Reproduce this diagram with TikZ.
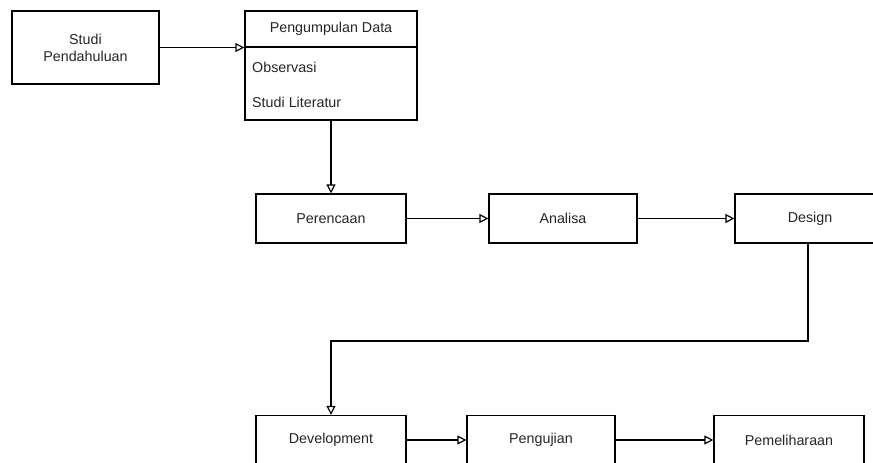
\documentclass[tikz,border=0pt]{standalone}
\usepackage{fontspec}
\setmainfont{Liberation Sans}
\usetikzlibrary{arrows.meta}
\begin{document}
\begin{tikzpicture}[x=1pt,y=-1pt,
  box/.style={draw=black,line width=1.2pt,fill=white,inner sep=0pt,text=black!85,
    font=\fontsize{14.3}{17}\selectfont,align=center},
  lbl/.style={inner sep=0pt,text=black!85,font=\fontsize{14.3}{17}\selectfont,anchor=west},
  arr/.style={draw=black,line width=1.2pt,-{Triangle[open,length=9pt,width=9pt,line width=1.2pt]}}]
\useasboundingbox (0,0) rectangle (873,463);
\clip (0,0) rectangle (873,463);
\node[box,minimum width=147pt,minimum height=73pt] (studi) at (85.5,47.5) {Studi\\Pendahuluan};
\node[box,minimum width=172pt,minimum height=36pt] (pdh) at (331,29) {Pengumpulan Data};
\node[box,minimum width=172pt,minimum height=73pt] (pdb) at (331,83.5) {};
\node[lbl] (obs) at (252,67) {Observasi};
\node[lbl] (lit) at (252,102) {Studi Literatur};
\node[box,minimum width=150pt,minimum height=49pt] (per) at (331,218.5) {Perencaan};
\node[box,minimum width=148pt,minimum height=49pt] (ana) at (563,218.5) {Analisa};
\node[box,minimum width=150pt,minimum height=49pt] (des) at (810,218.5) {Design};
\node[box,minimum width=150pt,minimum height=49pt] (dev) at (331,440) {Development};
\node[box,minimum width=148pt,minimum height=49pt] (pen) at (541,440) {Pengujian};
\node[box,minimum width=150pt,minimum height=49pt] (pem) at (789,440) {Pemeliharaan};
\coordinate (bend) at (808,341);
\draw[arr] (studi.east) -- (studi.east -| pdb.west);
\draw[arr] (pdb.south) -- (per.north);
\draw[arr] (per) -- (ana);
\draw[arr] (ana) -- (des);
\draw[arr] (des.south -| bend) -- (bend) -| (dev.north);
\draw[arr] (dev) -- (pen);
\draw[arr] (pen) -- (pem);
\end{tikzpicture}
\end{document}
